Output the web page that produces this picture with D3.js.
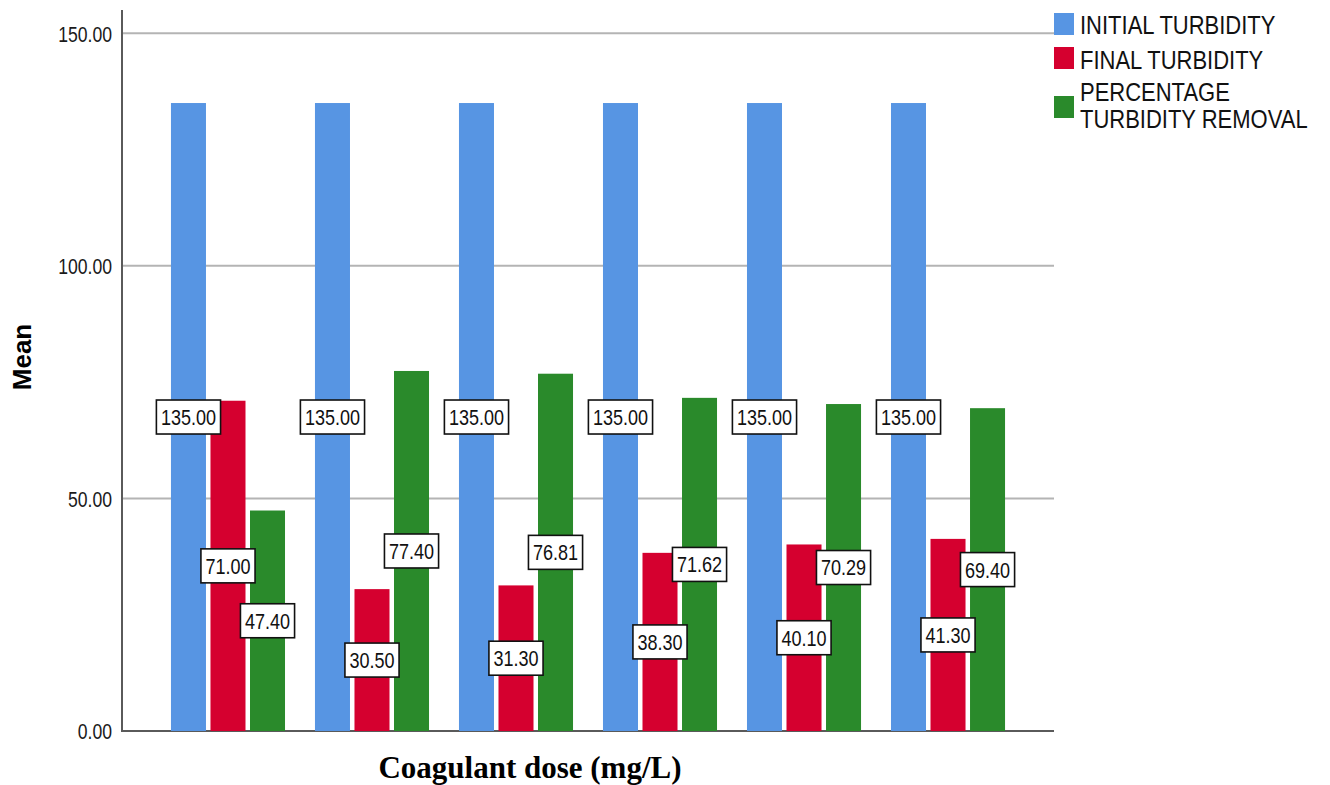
<!DOCTYPE html>
<html>
<head>
<meta charset="utf-8">
<script src="https://cdn.jsdelivr.net/npm/d3@7"></script>
<style>
  html, body { margin: 0; padding: 0; background: #ffffff; }
  svg { display: block; }
</style>
</head>
<body>
<svg id="chart" width="1330" height="785"></svg>
<script>
// Coagulant dose groups (axis categories are not labelled on the chart)
const categories = ["dose1", "dose2", "dose3", "dose4", "dose5", "dose6"];
const seriesNames = ["INITIAL TURBIDITY", "FINAL TURBIDITY", "PERCENTAGE TURBIDITY REMOVAL"];
const legendLines = [["INITIAL TURBIDITY"], ["FINAL TURBIDITY"], ["PERCENTAGE", "TURBIDITY REMOVAL"]];
const initialTurbidity = [135.00, 135.00, 135.00, 135.00, 135.00, 135.00];
const finalTurbidity = [71.00, 30.50, 31.30, 38.30, 40.10, 41.30];
const percentRemoval = [47.40, 77.40, 76.81, 71.62, 70.29, 69.40];
const yTicks = [0, 50, 100, 150];
const colors = ["#5795e3", "#d5002f", "#2a8a2b"];

const seriesValues = [initialTurbidity, finalTurbidity, percentRemoval];
const rows = categories.map((c, i) => ({
  cat: c,
  vals: seriesNames.map((s, k) => ({ series: s, k, v: seriesValues[k][i] }))
}));

const svg = d3.select("#chart");
const plotLeft = 122, plotRight = 1054, plotTop = 10, plotBottom = 731;

const y = d3.scaleLinear().domain([0, 155]).range([plotBottom, plotTop]);
const x0 = d3.scaleBand().domain(categories).range([plotLeft, plotRight])
  .paddingInner(0.208).paddingOuter(0.34);
const x1 = d3.scaleBand().domain(seriesNames).range([0, x0.bandwidth()])
  .paddingInner(0.114).paddingOuter(0);
const color = d3.scaleOrdinal().domain(seriesNames).range(colors);

// Horizontal gridlines
svg.append("g").selectAll("line")
  .data(yTicks.filter(t => t > 0))
  .join("line")
  .attr("x1", plotLeft).attr("x2", plotRight)
  .attr("y1", d => y(d)).attr("y2", d => y(d))
  .attr("stroke", "#b4b4b4").attr("stroke-width", 2);

// Y axis built from d3.axisLeft, restyled
const yAxis = svg.append("g")
  .attr("transform", `translate(${plotLeft},0)`)
  .call(d3.axisLeft(y).tickValues(yTicks).tickSize(0).tickPadding(10).tickFormat(d3.format(".2f")));
yAxis.select(".domain").remove();
yAxis.selectAll(".tick text")
  .attr("font-family", "Liberation Sans, Arial, sans-serif")
  .attr("font-size", 22)
  .attr("fill", "#1a1a1a")
  .attr("x", 0).attr("dy", "0.36em")
  .attr("transform", "translate(-10,0) scale(0.8,1)");

// Axis lines
svg.append("line").attr("x1", plotLeft).attr("x2", plotLeft).attr("y1", plotTop).attr("y2", plotBottom + 1)
  .attr("stroke", "#5a5a5a").attr("stroke-width", 2);
svg.append("line").attr("x1", plotLeft - 1).attr("x2", plotRight).attr("y1", plotBottom).attr("y2", plotBottom)
  .attr("stroke", "#5a5a5a").attr("stroke-width", 2);

// Bars
const groups = svg.append("g").selectAll("g")
  .data(rows).join("g")
  .attr("transform", d => `translate(${x0(d.cat)},0)`);
groups.selectAll("rect")
  .data(d => d.vals).join("rect")
  .attr("x", d => x1(d.series))
  .attr("width", x1.bandwidth())
  .attr("y", d => y(d.v))
  .attr("height", d => y(0) - y(d.v))
  .attr("fill", d => color(d.series));

// Value labels, boxed, at half the bar height
const fmt = d3.format(".2f");
const labelLayer = svg.append("g");
const labelSquash = 0.82;
rows.forEach(r => {
  r.vals.forEach(d => {
    const cx = x0(r.cat) + x1(d.series) + x1.bandwidth() / 2;
    const cy = y(d.v / 2);
    const g = labelLayer.append("g").attr("transform", `translate(${cx},${cy})`);
    const rect = g.append("rect");
    const t = g.append("text")
      .text(fmt(d.v))
      .attr("font-family", "Liberation Sans, Arial, sans-serif")
      .attr("font-size", 22)
      .attr("fill", "#111")
      .attr("text-anchor", "middle")
      .attr("dy", "0.36em")
      .attr("transform", `scale(${labelSquash},1)`);
    const w = t.node().getComputedTextLength() * labelSquash + 9;
    const h = 34;
    rect.attr("x", -w / 2).attr("y", -h / 2).attr("width", w).attr("height", h)
      .attr("fill", "#fff").attr("stroke", "#111").attr("stroke-width", 1.6);
  });
});

// Axis titles
svg.append("text")
  .text("Mean")
  .attr("transform", "translate(31,357) rotate(-90)")
  .attr("text-anchor", "middle")
  .attr("font-family", "Liberation Sans, Arial, sans-serif")
  .attr("font-weight", "bold")
  .attr("font-size", 26)
  .attr("fill", "#000");

svg.append("text")
  .text("Coagulant dose (mg/L)")
  .attr("x", 530).attr("y", 778)
  .attr("text-anchor", "middle")
  .attr("font-family", "Liberation Serif, Times New Roman, serif")
  .attr("font-weight", "bold")
  .attr("font-size", 31)
  .attr("fill", "#000");

// Legend
const legendSwatchY = [13, 47, 96];
const legendBaselines = [[34], [69], [101, 128]];
const legend = svg.append("g");
seriesNames.forEach((s, k) => {
  legend.append("rect")
    .attr("x", 1054).attr("y", legendSwatchY[k])
    .attr("width", 20).attr("height", 22)
    .attr("fill", color(s));
  legendLines[k].forEach((line, j) => {
    legend.append("text")
      .text(line)
      .attr("font-family", "Liberation Sans, Arial, sans-serif")
      .attr("font-size", 25)
      .attr("fill", "#111")
      .attr("transform", `translate(1080,${legendBaselines[k][j]}) scale(0.88,1)`);
  });
});
</script>
</body>
</html>
